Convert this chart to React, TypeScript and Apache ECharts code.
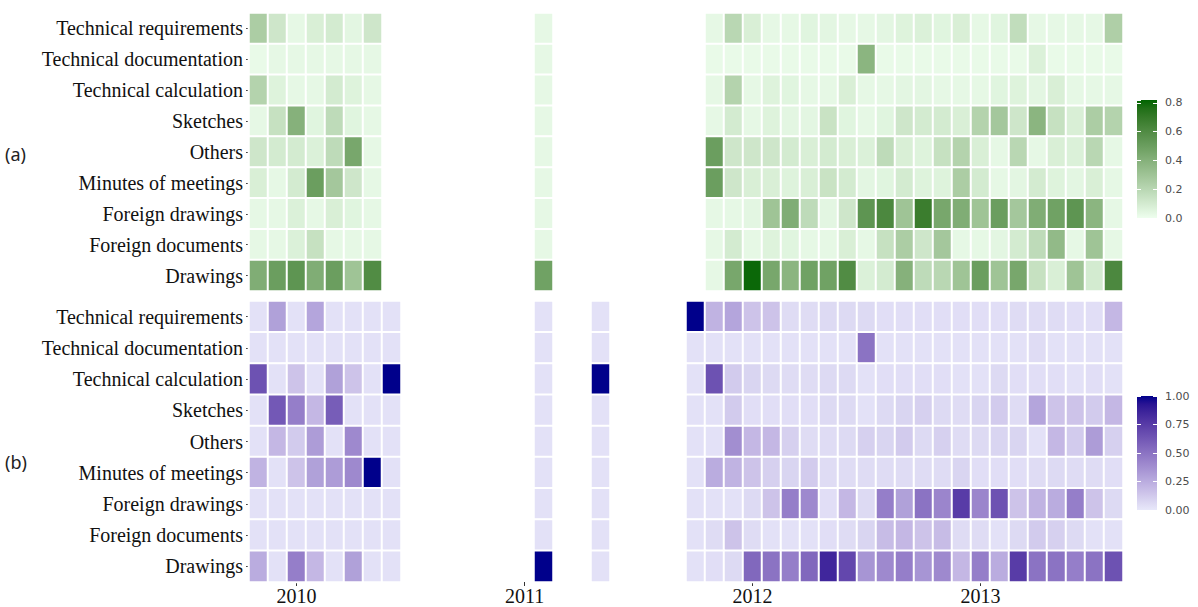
import React, { useEffect, useRef } from "react";
import * as echarts from "echarts";

// ---------- categories ----------
const MONTHS = [
  "2009-11", "2009-12",
  "2010-01", "2010-02", "2010-03", "2010-04", "2010-05", "2010-06",
  "2010-07", "2010-08", "2010-09", "2010-10", "2010-11", "2010-12",
  "2011-01", "2011-02", "2011-03", "2011-04", "2011-05", "2011-06",
  "2011-07", "2011-08", "2011-09", "2011-10", "2011-11", "2011-12",
  "2012-01", "2012-02", "2012-03", "2012-04", "2012-05", "2012-06",
  "2012-07", "2012-08", "2012-09", "2012-10", "2012-11", "2012-12",
  "2013-01", "2013-02", "2013-03", "2013-04", "2013-05", "2013-06",
  "2013-07", "2013-08",
];

// rows, top to bottom
const ROWS = [
  "Technical requirements",
  "Technical documentation",
  "Technical calculation",
  "Sketches",
  "Others",
  "Minutes of meetings",
  "Foreign drawings",
  "Foreign documents",
  "Drawings",
];

// months present in panel (a)
const MONTHS_A = [
  "2009-11", "2009-12", "2010-01", "2010-02", "2010-03", "2010-04", "2010-05",
  "2011-02",
  "2011-11", "2011-12",
  "2012-01", "2012-02", "2012-03", "2012-04", "2012-05", "2012-06",
  "2012-07", "2012-08", "2012-09", "2012-10", "2012-11", "2012-12",
  "2013-01", "2013-02", "2013-03", "2013-04", "2013-05", "2013-06", "2013-07", "2013-08",
];

// months present in panel (b)
const MONTHS_B = [
  "2009-11", "2009-12", "2010-01", "2010-02", "2010-03", "2010-04", "2010-05", "2010-06",
  "2011-02", "2011-05",
  "2011-10", "2011-11", "2011-12",
  "2012-01", "2012-02", "2012-03", "2012-04", "2012-05", "2012-06",
  "2012-07", "2012-08", "2012-09", "2012-10", "2012-11", "2012-12",
  "2013-01", "2013-02", "2013-03", "2013-04", "2013-05", "2013-06", "2013-07", "2013-08",
];

// ---------- panel (a) values ----------
const A_TECH_REQ = [0.25, 0.12, 0.03, 0.08, 0.10, 0.04, 0.12, 0.03, 0.03, 0.20, 0.08, 0.03, 0.03, 0.05, 0.04, 0.03, 0.03, 0.04, 0.06, 0.07, 0.05, 0.08, 0.03, 0.05, 0.17, 0.03, 0.03, 0.03, 0.03, 0.24];
const A_TECH_DOC = [0.02, 0.03, 0.03, 0.03, 0.03, 0.03, 0.03, 0.03, 0.02, 0.02, 0.02, 0.02, 0.02, 0.02, 0.02, 0.02, 0.38, 0.02, 0.02, 0.02, 0.02, 0.02, 0.02, 0.02, 0.02, 0.07, 0.02, 0.02, 0.02, 0.02];
const A_TECH_CALC = [0.22, 0.06, 0.03, 0.03, 0.10, 0.06, 0.03, 0.03, 0.03, 0.22, 0.03, 0.06, 0.05, 0.03, 0.03, 0.08, 0.03, 0.03, 0.04, 0.04, 0.03, 0.03, 0.03, 0.05, 0.06, 0.04, 0.08, 0.03, 0.03, 0.03];
const A_SKETCHES = [0.03, 0.15, 0.40, 0.05, 0.18, 0.05, 0.03, 0.03, 0.03, 0.10, 0.03, 0.06, 0.04, 0.04, 0.14, 0.05, 0.03, 0.05, 0.12, 0.10, 0.10, 0.08, 0.22, 0.28, 0.12, 0.38, 0.15, 0.08, 0.25, 0.22];
const A_OTHERS = [0.12, 0.10, 0.10, 0.07, 0.18, 0.45, 0.03, 0.03, 0.50, 0.12, 0.12, 0.12, 0.10, 0.08, 0.10, 0.08, 0.07, 0.18, 0.08, 0.06, 0.15, 0.22, 0.08, 0.03, 0.20, 0.03, 0.08, 0.07, 0.20, 0.03];
const A_MINUTES = [0.08, 0.03, 0.10, 0.50, 0.28, 0.12, 0.03, 0.03, 0.50, 0.12, 0.08, 0.08, 0.06, 0.08, 0.14, 0.10, 0.04, 0.05, 0.10, 0.06, 0.06, 0.25, 0.10, 0.03, 0.04, 0.10, 0.06, 0.04, 0.08, 0.03];
const A_FOREIGN_DRW = [0.03, 0.03, 0.07, 0.03, 0.08, 0.05, 0.03, 0.03, 0.03, 0.03, 0.04, 0.30, 0.42, 0.18, 0.04, 0.12, 0.55, 0.62, 0.30, 0.68, 0.45, 0.42, 0.30, 0.50, 0.28, 0.42, 0.48, 0.55, 0.38, 0.03];
const A_FOREIGN_DOC = [0.03, 0.03, 0.07, 0.15, 0.03, 0.03, 0.03, 0.03, 0.03, 0.10, 0.03, 0.06, 0.05, 0.03, 0.03, 0.08, 0.03, 0.15, 0.25, 0.12, 0.28, 0.03, 0.03, 0.04, 0.10, 0.18, 0.35, 0.03, 0.30, 0.03];
const A_DRAWINGS = [0.42, 0.50, 0.55, 0.42, 0.50, 0.30, 0.60, 0.48, 0.03, 0.45, 0.80, 0.45, 0.38, 0.48, 0.48, 0.60, 0.07, 0.10, 0.40, 0.18, 0.20, 0.30, 0.50, 0.30, 0.45, 0.15, 0.08, 0.30, 0.10, 0.62];

// ---------- panel (b) values ----------
const B_TECH_REQ = [0.03, 0.30, 0.03, 0.28, 0.03, 0.03, 0.03, 0.03, 0.03, 0.03, 1.00, 0.22, 0.28, 0.15, 0.15, 0.05, 0.05, 0.06, 0.06, 0.06, 0.04, 0.04, 0.04, 0.04, 0.04, 0.04, 0.04, 0.05, 0.05, 0.05, 0.04, 0.04, 0.20];
const B_TECH_DOC = [0.03, 0.03, 0.03, 0.03, 0.03, 0.03, 0.03, 0.03, 0.03, 0.03, 0.03, 0.03, 0.03, 0.03, 0.03, 0.03, 0.03, 0.03, 0.03, 0.50, 0.03, 0.03, 0.03, 0.03, 0.03, 0.03, 0.03, 0.03, 0.05, 0.03, 0.03, 0.03, 0.03];
const B_TECH_CALC = [0.65, 0.03, 0.15, 0.03, 0.30, 0.15, 0.03, 1.00, 0.03, 1.00, 0.03, 0.65, 0.12, 0.08, 0.06, 0.05, 0.05, 0.06, 0.06, 0.03, 0.04, 0.04, 0.04, 0.04, 0.03, 0.03, 0.06, 0.04, 0.04, 0.04, 0.03, 0.04, 0.03];
const B_SKETCHES = [0.03, 0.62, 0.45, 0.20, 0.60, 0.03, 0.03, 0.03, 0.03, 0.03, 0.03, 0.03, 0.12, 0.04, 0.04, 0.04, 0.04, 0.06, 0.06, 0.03, 0.06, 0.08, 0.10, 0.06, 0.05, 0.08, 0.12, 0.05, 0.28, 0.15, 0.15, 0.12, 0.20];
const B_OTHERS = [0.03, 0.20, 0.12, 0.32, 0.03, 0.40, 0.03, 0.03, 0.03, 0.03, 0.03, 0.03, 0.38, 0.20, 0.20, 0.10, 0.05, 0.05, 0.06, 0.10, 0.08, 0.12, 0.06, 0.10, 0.05, 0.06, 0.08, 0.08, 0.03, 0.20, 0.12, 0.32, 0.10];
const B_MINUTES = [0.22, 0.03, 0.15, 0.30, 0.32, 0.40, 1.00, 0.03, 0.03, 0.03, 0.03, 0.25, 0.22, 0.15, 0.10, 0.08, 0.12, 0.05, 0.05, 0.05, 0.05, 0.05, 0.05, 0.05, 0.08, 0.04, 0.04, 0.04, 0.05, 0.06, 0.05, 0.05, 0.04];
const B_FOREIGN_DRW = [0.03, 0.03, 0.03, 0.03, 0.03, 0.03, 0.03, 0.03, 0.03, 0.03, 0.03, 0.03, 0.03, 0.06, 0.15, 0.45, 0.40, 0.04, 0.20, 0.06, 0.45, 0.30, 0.50, 0.42, 0.75, 0.42, 0.65, 0.15, 0.22, 0.25, 0.45, 0.15, 0.06];
const B_FOREIGN_DOC = [0.03, 0.03, 0.03, 0.03, 0.03, 0.03, 0.03, 0.03, 0.03, 0.03, 0.03, 0.05, 0.15, 0.05, 0.03, 0.03, 0.03, 0.04, 0.05, 0.08, 0.18, 0.20, 0.15, 0.18, 0.05, 0.05, 0.03, 0.06, 0.12, 0.10, 0.06, 0.03, 0.03];
const B_DRAWINGS = [0.25, 0.03, 0.45, 0.20, 0.03, 0.30, 0.03, 0.03, 1.00, 0.03, 0.03, 0.04, 0.06, 0.55, 0.50, 0.45, 0.55, 0.85, 0.70, 0.35, 0.40, 0.45, 0.35, 0.40, 0.20, 0.45, 0.25, 0.75, 0.50, 0.50, 0.45, 0.50, 0.65];

const ROWS_A = [A_TECH_REQ, A_TECH_DOC, A_TECH_CALC, A_SKETCHES, A_OTHERS, A_MINUTES, A_FOREIGN_DRW, A_FOREIGN_DOC, A_DRAWINGS];
const ROWS_B = [B_TECH_REQ, B_TECH_DOC, B_TECH_CALC, B_SKETCHES, B_OTHERS, B_MINUTES, B_FOREIGN_DRW, B_FOREIGN_DOC, B_DRAWINGS];

// colour-bar scales
const SCALE_A_MAX = 0.82;
const SCALE_A_TICK = 0.2;
const SCALE_B_MAX = 1.0;
const SCALE_B_TICK = 0.25;

// ---------- colour helpers (Lab interpolation like ggplot) ----------
function hexToRgb(hex: string) {
  const n = parseInt(hex.slice(1), 16);
  return [(n >> 16) & 255, (n >> 8) & 255, n & 255];
}
function toLab(rgb: number[]) {
  const lin = (c: number) => {
    c /= 255;
    return c <= 0.04045 ? c / 12.92 : Math.pow((c + 0.055) / 1.055, 2.4);
  };
  const R = lin(rgb[0]), G = lin(rgb[1]), B = lin(rgb[2]);
  const X = (0.4124 * R + 0.3576 * G + 0.1805 * B) / 0.95047;
  const Y = 0.2126 * R + 0.7152 * G + 0.0722 * B;
  const Z = (0.0193 * R + 0.1192 * G + 0.9505 * B) / 1.08883;
  const f = (t: number) => (t > 0.008856 ? Math.cbrt(t) : 7.787 * t + 16 / 116);
  const fx = f(X), fy = f(Y), fz = f(Z);
  return [116 * fy - 16, 500 * (fx - fy), 200 * (fy - fz)];
}
function fromLab(lab: number[]) {
  const fy = (lab[0] + 16) / 116;
  const fx = fy + lab[1] / 500;
  const fz = fy - lab[2] / 200;
  const finv = (t: number) => {
    const t3 = t * t * t;
    return t3 > 0.008856 ? t3 : (t - 16 / 116) / 7.787;
  };
  const X = finv(fx) * 0.95047, Y = finv(fy), Z = finv(fz) * 1.08883;
  const R = 3.2406 * X - 1.5372 * Y - 0.4986 * Z;
  const G = -0.9689 * X + 1.8758 * Y + 0.0415 * Z;
  const B = 0.0557 * X - 0.204 * Y + 1.057 * Z;
  const gam = (c: number) => {
    c = c <= 0.0031308 ? 12.92 * c : 1.055 * Math.pow(c, 1 / 2.4) - 0.055;
    return Math.round(Math.min(1, Math.max(0, c)) * 255);
  };
  return `rgb(${gam(R)},${gam(G)},${gam(B)})`;
}
function labRamp(low: string, high: string, n: number) {
  const a = toLab(hexToRgb(low));
  const b = toLab(hexToRgb(high));
  const out: string[] = [];
  for (let i = 0; i < n; i++) {
    const t = i / (n - 1);
    out.push(fromLab([a[0] + (b[0] - a[0]) * t, a[1] + (b[1] - a[1]) * t, a[2] + (b[2] - a[2]) * t]));
  }
  return out;
}

const GREEN = labRamp("#EEFEEE", "#006400", 15);
const PURPLE = labRamp("#E8E8FA", "#00008B", 15);

function buildData(months: string[], rows: number[][]) {
  const out: number[][] = [];
  rows.forEach((vals, r) => {
    vals.forEach((v, i) => {
      out.push([MONTHS.indexOf(months[i]), ROWS.length - 1 - r, v]);
    });
  });
  return out;
}

const SERIF = "'Liberation Serif', 'Times New Roman', serif";
const isJan = (_i: number, v: string) => v.endsWith("-01");

function colorbar(stops: string[]) {
  return (params: any) => {
    const cs = params.coordSys;
    return {
      type: "rect",
      shape: { x: cs.x, y: cs.y, width: cs.width, height: cs.height },
      style: {
        fill: new echarts.graphic.LinearGradient(
          0, 1, 0, 0,
          stops.map((c, i) => ({ offset: i / (stops.length - 1), color: c }))
        ),
      },
    };
  };
}

function legendAxes(gridIndex: number, max: number, interval: number, digits: number) {
  return [
    {
      type: "value", gridIndex, min: 0, max, interval, position: "right", z: 10,
      axisLine: { show: false }, splitLine: { show: false },
      axisTick: { show: true, inside: true, length: 4, lineStyle: { color: "#ffffff", width: 1 } },
      axisLabel: {
        showMaxLabel: max % interval === 0 ? true : false,
        formatter: (v: number) => v.toFixed(digits),
        fontFamily: "'DejaVu Sans', sans-serif", fontSize: 11, color: "#4d4d4d", margin: 8,
      },
    },
    {
      type: "value", gridIndex, min: 0, max, interval, position: "left", z: 10,
      axisLine: { show: false }, splitLine: { show: false },
      axisTick: { show: true, inside: true, length: 4, lineStyle: { color: "#ffffff", width: 1 } },
      axisLabel: { show: false },
    },
  ];
}

export default function App() {
  const ref = useRef<HTMLDivElement>(null);
  useEffect(() => {
    if (!ref.current) return;
    const chart = echarts.init(ref.current, null, { renderer: "svg" });
    const rowsBottomUp = [...ROWS].reverse();
    const catY = (gridIndex: number) => ({
      type: "category", gridIndex, data: rowsBottomUp,
      axisLine: { show: false },
      axisTick: { show: true, alignWithLabel: true, length: 3, lineStyle: { color: "#444" } },
      axisLabel: { fontFamily: SERIF, fontSize: 20, color: "#111", margin: 6 },
      splitLine: { show: false },
    });
    const option: any = {
      animation: false,
      backgroundColor: "#ffffff",
      grid: [
        { left: 249, top: 13, width: 874, height: 278 },
        { left: 249, top: 301, width: 874, height: 281 },
        { left: 1137, top: 100, width: 20, height: 118 },
        { left: 1137, top: 396, width: 20, height: 114 },
      ],
      xAxis: [
        { type: "category", gridIndex: 0, data: MONTHS, axisLine: { show: false }, axisTick: { show: false }, axisLabel: { show: false }, splitLine: { show: false } },
        {
          type: "category", gridIndex: 1, data: MONTHS, axisLine: { show: false },
          axisTick: { show: true, alignWithLabel: true, interval: isJan, length: 4, lineStyle: { color: "#333" } },
          axisLabel: { interval: isJan, formatter: (v: string) => v.slice(0, 4), fontFamily: SERIF, fontSize: 20, color: "#111", margin: 4 },
          splitLine: { show: false },
        },
        { type: "category", gridIndex: 2, data: [""], show: false },
        { type: "category", gridIndex: 3, data: [""], show: false },
      ],
      yAxis: [
        catY(0),
        catY(1),
        ...legendAxes(2, SCALE_A_MAX, SCALE_A_TICK, 1),
        ...legendAxes(3, SCALE_B_MAX, SCALE_B_TICK, 2),
      ],
      visualMap: [
        { type: "continuous", show: false, seriesIndex: 0, dimension: 2, min: 0, max: SCALE_A_MAX, inRange: { color: GREEN } },
        { type: "continuous", show: false, seriesIndex: 1, dimension: 2, min: 0, max: SCALE_B_MAX, inRange: { color: PURPLE } },
      ],
      graphic: [
        { type: "text", left: 5, top: 145, style: { text: "(a)", font: "18px 'Noto Sans', sans-serif", fill: "#222" } },
        { type: "text", left: 5, top: 453, style: { text: "(b)", font: "18px 'Noto Sans', sans-serif", fill: "#222" } },
      ],
      series: [
        {
          type: "heatmap", xAxisIndex: 0, yAxisIndex: 0, data: buildData(MONTHS_A, ROWS_A),
          itemStyle: { borderColor: "#ffffff", borderWidth: 2 }, emphasis: { disabled: true },
        },
        {
          type: "heatmap", xAxisIndex: 1, yAxisIndex: 1, data: buildData(MONTHS_B, ROWS_B),
          itemStyle: { borderColor: "#ffffff", borderWidth: 2 }, emphasis: { disabled: true },
        },
        {
          type: "custom", xAxisIndex: 2, yAxisIndex: 2, data: [[0, SCALE_A_MAX]], encode: { x: 0, y: 1 },
          renderItem: colorbar(GREEN), silent: true, z: 1,
        },
        {
          type: "custom", xAxisIndex: 3, yAxisIndex: 4, data: [[0, SCALE_B_MAX]], encode: { x: 0, y: 1 },
          renderItem: colorbar(PURPLE), silent: true, z: 1,
        },
      ],
    };
    chart.setOption(option);
    return () => chart.dispose();
  }, []);
  return (
    <div
      ref={ref}
      style={{ position: "fixed", left: 0, top: 0, width: 1198, height: 607, background: "#fff" }}
    />
  );
}
